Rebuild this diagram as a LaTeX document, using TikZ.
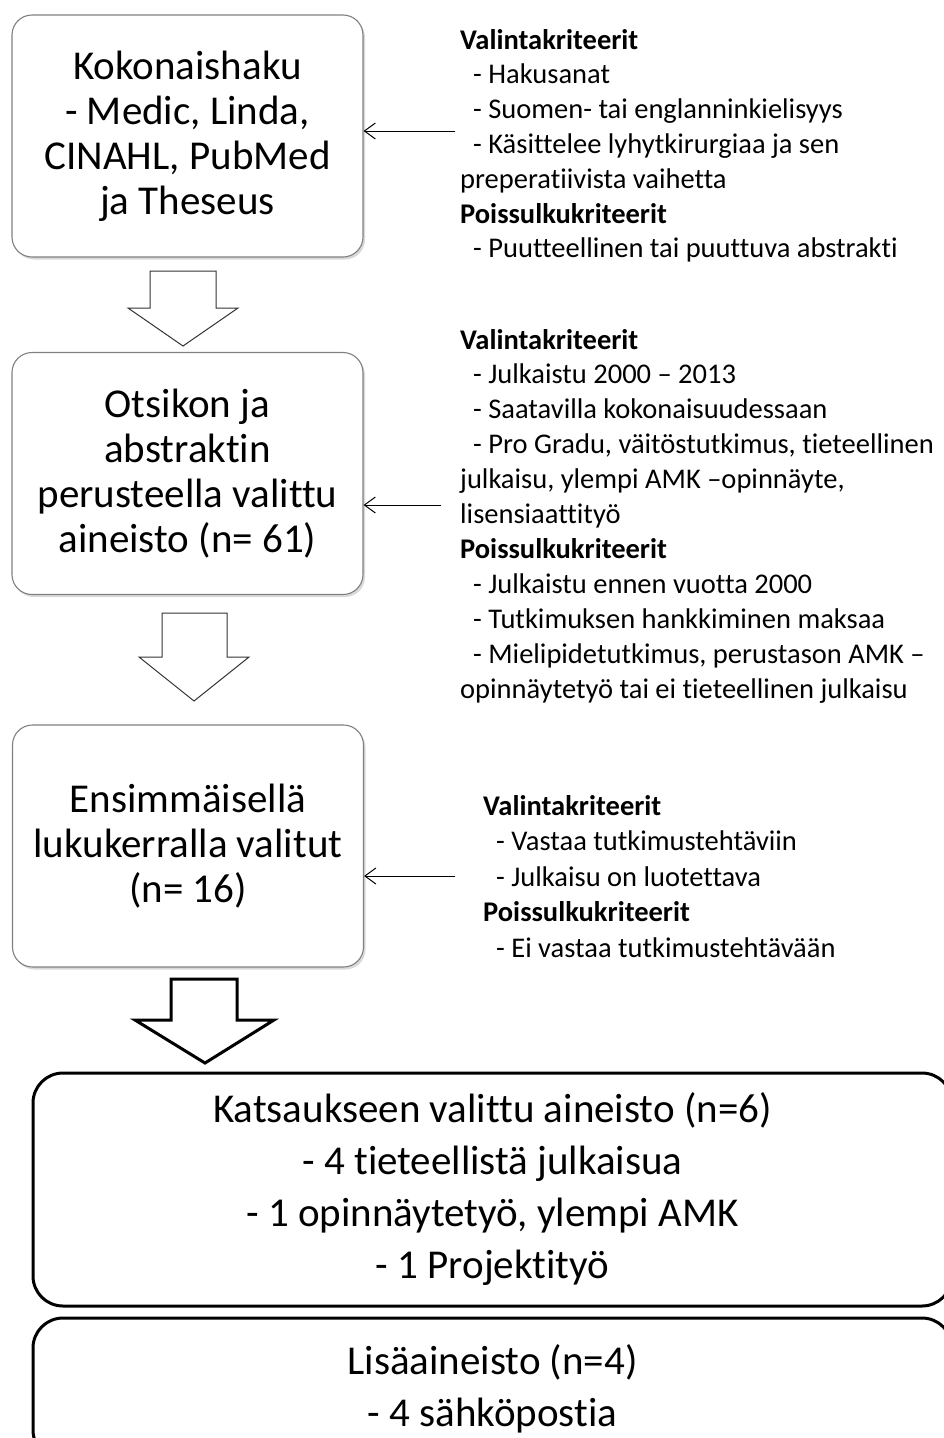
\documentclass[tikz,border=0pt]{standalone}
\usepackage{fontspec}
\setmainfont{Carlito}[Ligatures=CommonOff]
\usetikzlibrary{arrows.meta,shadows}
\newcommand{\critind}{\hspace*{13pt}}
\begin{document}
\begin{tikzpicture}[x=1pt,y=-1pt,
  box/.style={draw=black!50, line width=1.1pt, rounded corners=20pt, fill=white, align=center,
    inner sep=0pt, minimum width=351pt, minimum height=242pt, font=\fontsize{41}{45}\selectfont,
    drop shadow={shadow xshift=2pt, shadow yshift=-2.5pt, opacity=.3}},
  bigbox/.style={draw=black, line width=3pt, rounded corners=30pt, fill=white, align=center,
    inner sep=0pt, minimum width=919pt, font=\fontsize{41}{52}\selectfont},
  crit/.style={anchor=base west, inner sep=0pt, font=\fontsize{28.5}{34.8}\selectfont},
  thinarrow/.style={-{Straight Barb[length=11pt,width=16pt]}, line width=1pt},
  blockarrow/.style={draw=black!80, line width=1pt, fill=white, line join=miter},
  bigarrow/.style={draw=black, line width=3pt, fill=white, line join=miter}]
\useasboundingbox (0,0) rectangle (944,1438);

% main boxes
\node[box] (b1) at (187.5,136) {Kokonaishaku\\- Medic, Linda,\\CINAHL, PubMed\\ja Theseus};
\node[box] (b2) at (187.5,473.5) {Otsikon ja\\abstraktin\\perusteella valittu\\aineisto (n= 61)};
\node[box] (b3) at (188,846) {Ensimmäisellä\\lukukerralla valitut\\(n= 16)};
\node[bigbox, minimum height=233pt] (b4) at (492.5,1189.5)
  {Katsaukseen valittu aineisto (n=6)\\- 4 tieteellistä julkaisua\\- 1 opinnäytetyö, ylempi AMK\\- 1 Projektityö};
\node[bigbox, minimum height=142pt] (b5) at (492.5,1389) {Lisäaineisto (n=4)\\- 4 sähköpostia};

% block arrows
\draw[blockarrow] (150,271) -- (216,271) -- (216,308) -- (238,308) -- (183,346) -- (128,308) -- (150,308) -- cycle;
\draw[blockarrow] (162,613) -- (227,613) -- (227,657) -- (249,657) -- (194,701) -- (139,657) -- (162,657) -- cycle;
\draw[bigarrow] (171,979) -- (237,979) -- (237,1020) -- (274,1020) -- (205,1063) -- (135,1020) -- (171,1020) -- cycle;

% criteria blocks
\foreach \t [count=\i from 0] in {
  {\textbf{Valintakriteerit}},
  {\critind- Hakusanat},
  {\critind- Suomen- tai englanninkielisyys},
  {\critind- Käsittelee lyhytkirurgiaa ja sen},
  {preperatiivista vaihetta},
  {\textbf{Poissulkukriteerit}},
  {\critind- Puutteellinen tai puuttuva abstrakti}}
  \node[crit] (c1-\i) at (460,{49+34.8*\i}) {\t};

\foreach \t [count=\i from 0] in {
  {\textbf{Valintakriteerit}},
  {\critind- Julkaistu 2000 – 2013},
  {\critind- Saatavilla kokonaisuudessaan},
  {\critind- Pro Gradu, väitöstutkimus, tieteellinen},
  {julkaisu, ylempi AMK –opinnäyte,},
  {lisensiaattityö},
  {\textbf{Poissulkukriteerit}},
  {\critind- Julkaistu ennen vuotta 2000},
  {\critind- Tutkimuksen hankkiminen maksaa},
  {\critind- Mielipidetutkimus, perustason AMK –},
  {opinnäytetyö tai ei tieteellinen julkaisu}}
  \node[crit] (c2-\i) at (460,{349+34.9*\i}) {\t};

\foreach \t [count=\i from 0] in {
  {\textbf{Valintakriteerit}},
  {\critind- Vastaa tutkimustehtäviin},
  {\critind- Julkaisu on luotettava},
  {\textbf{Poissulkukriteerit}},
  {\critind- Ei vastaa tutkimustehtävään}}
  \node[crit] (c3-\i) at (483,{815+35.5*\i}) {\t};

% thin arrows
\coordinate (s1) at (455,131);
\coordinate (s2) at (441,505);
\coordinate (s3) at (455,876);
\draw[thinarrow] (s1) -- (s1 -| b1.east);
\draw[thinarrow] (s2) -- (s2 -| b2.east);
\draw[thinarrow] (s3) -- (s3 -| b3.east);
\end{tikzpicture}
\end{document}
